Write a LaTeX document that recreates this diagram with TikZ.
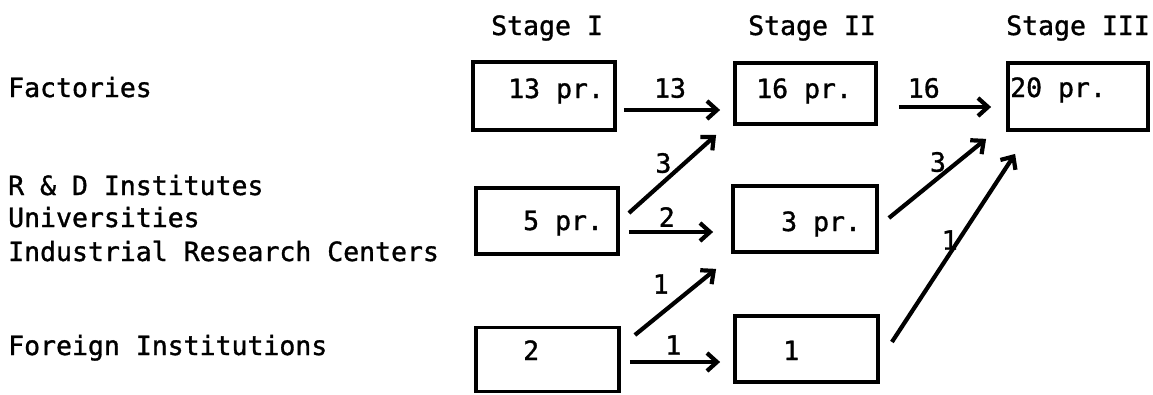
\documentclass[tikz,border=0pt]{standalone}
\usepackage{fontspec}
\newfontfamily\diagfont{DejaVu Sans Mono}[FakeBold=1.2]
\usetikzlibrary{arrows.meta}
\begin{document}
\begin{tikzpicture}[x=1pt,y=-1pt,
  txt/.style={font=\diagfont\fontsize{26.5}{30}\selectfont, inner sep=0pt, anchor=base west},
  lbl/.style={font=\diagfont\fontsize{26.5}{30}\selectfont, inner sep=0pt},
  box/.style={draw, line width=3.8pt, inner sep=0pt, rectangle},
  arr/.style={line width=4.2pt, -{Straight Barb[length=10pt,width=18pt,line width=4.2pt]}}]
\useasboundingbox (0,0) rectangle (1153,394);
% stage headings
\node[txt] (s1) at (491,35) {Stage I};
\node[txt] (s2) at (748,35) {Stage II};
\node[txt] (s3) at (1006,35) {Stage III};
% row labels
\node[txt] (f) at (8,97) {Factories};
\node[txt] (rd) at (8,195) {R \& D Institutes};
\node[txt] (un) at (8,227) {Universities};
\node[txt] (ir) at (8,261) {Industrial Research Centers};
\node[txt] (fi) at (8,355) {Foreign Institutions};
% boxes
\node[box, minimum width=142, minimum height=68] (b13) at (544,96) {};
\node[box, minimum width=141, minimum height=61] (b16) at (805.5,93.5) {};
\node[box, minimum width=140, minimum height=67] (b20) at (1078,96.5) {};
\node[box, minimum width=142, minimum height=66] (b5) at (547,221) {};
\node[box, minimum width=144, minimum height=66] (b3) at (805,219) {};
\node[box, minimum width=143, minimum height=64] (b2) at (547.5,359.5) {};
\node[box, minimum width=143, minimum height=66] (b1) at (806.5,349) {};
% box texts
\node[txt] (t13) at (508,98) {13 pr.};
\node[txt] (t16) at (756,98) {16 pr.};
\node[txt] (t20) at (1010,97) {20 pr.};
\node[txt] (t5) at (523,230) {5 pr.};
\node[txt] (t3) at (781,231) {3 pr.};
\node[txt] (t2) at (523,360) {2};
\node[txt] (t1) at (783,360) {1};
% connectors
\draw[arr] ([shift={(7,14)}]b13.east) -- node[lbl, pos=0.48, yshift=22pt] (l13) {13} ([shift={(-13,16.5)}]b16.west);
\draw[arr] ([shift={(21,13.5)}]b16.east) -- node[lbl, pos=0.27, yshift=19pt] (l16) {16} ([shift={(-15,10.5)}]b20.west);
\draw[arr] ([shift={(9,-8)}]b5.east) -- node[lbl, pos=0.396, yshift=19pt] (l3a) {3} ([shift={(-17,9)}]b16.south west);
\draw[arr] ([shift={(9,11)}]b5.east) -- node[lbl, pos=0.45, yshift=15pt] (l2) {2} ([shift={(-18,13)}]b3.west);
\draw[arr] ([shift={(14,-24.5)}]b2.east) -- node[lbl, pos=0.318, yshift=30pt] (l1a) {1} ([shift={(-15,15)}]b3.south west);
\draw[arr] ([shift={(9,2.5)}]b2.east) -- node[lbl, pos=0.48, yshift=17pt] (l1b) {1} ([shift={(-13,13)}]b1.west);
\draw[arr] ([shift={(10,-1)}]b3.east) -- node[lbl, pos=0.505, yshift=16pt] (l3b) {3} ([shift={(-20,7)}]b20.south west);
\draw[arr] ([shift={(12,-7)}]b1.east) -- node[lbl, pos=0.542, xshift=-9pt] (l1c) {1} ([shift={(9,22)}]b20.south west);
\end{tikzpicture}
\end{document}
